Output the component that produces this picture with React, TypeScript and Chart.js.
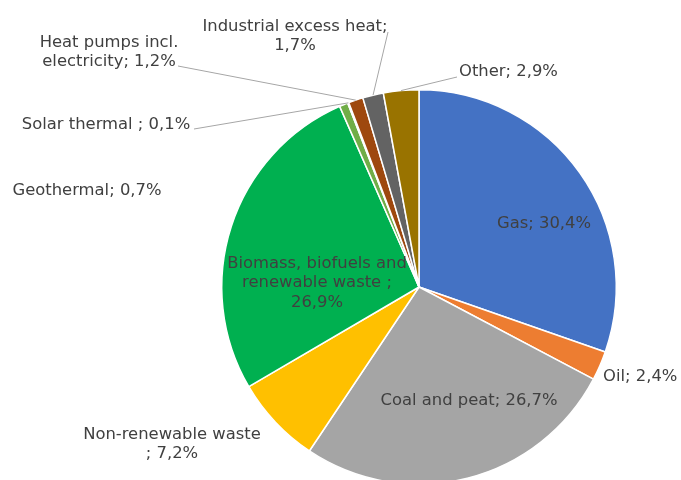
import React, { useEffect, useRef } from "react";
import { Chart, registerables } from "chart.js";

Chart.register(...registerables);

const categories = [
  "Gas",
  "Oil",
  "Coal and peat",
  "Non-renewable waste",
  "Biomass, biofuels and renewable waste",
  "Geothermal",
  "Solar thermal",
  "Heat pumps incl. electricity",
  "Industrial excess heat",
  "Other",
];
const shares = [30.4, 2.4, 26.7, 7.2, 26.9, 0.7, 0.1, 1.2, 1.7, 2.9];
const labelLines = [
  ["Gas; 30,4%"],
  ["Oil; 2,4%"],
  ["Coal and peat; 26,7%"],
  ["Non-renewable waste", "; 7,2%"],
  ["Biomass, biofuels and", "renewable waste ;", "26,9%"],
  ["Geothermal; 0,7%"],
  ["Solar thermal ; 0,1%"],
  ["Heat pumps incl.", "electricity; 1,2%"],
  ["Industrial excess heat;", "1,7%"],
  ["Other; 2,9%"],
];
const colors = [
  "#4472C4",
  "#ED7D31",
  "#A5A5A5",
  "#FFC000",
  "#00B050",
  "#70AD47",
  "#264478",
  "#9E480E",
  "#636363",
  "#997300",
];

// label placement relative to pie centre (px); leader = start of leader line
type LabelLayout = { dx: number; dy: number; align: CanvasTextAlign; leader?: [number, number] };
const labelLayout: LabelLayout[] = [
  { dx: 125, dy: -63, align: "center" },
  { dx: 184, dy: 90, align: "left" },
  { dx: 50, dy: 114, align: "center" },
  { dx: -247, dy: 157, align: "center" },
  { dx: -102, dy: -4, align: "center" },
  { dx: -332, dy: -96, align: "center" },
  { dx: -313, dy: -162, align: "center", leader: [-225, -158] },
  { dx: -310, dy: -235, align: "center", leader: [-241, -221] },
  { dx: -124, dy: -251, align: "center", leader: [-31, -255] },
  { dx: 40, dy: -215, align: "left", leader: [38, -210] },
];

const labelPlugin = {
  id: "pieLabels",
  afterDatasetsDraw(chart: any) {
    const meta = chart.getDatasetMeta(0);
    const ctx = chart.ctx as CanvasRenderingContext2D;
    ctx.save();
    ctx.font = '16.4px "DejaVu Sans"';
    ctx.fillStyle = "#404040";
    ctx.textBaseline = "middle";
    const lh = 19.5;
    meta.data.forEach((el: any, i: number) => {
      const { x, y, startAngle, endAngle, outerRadius } = el.getProps(
        ["x", "y", "startAngle", "endAngle", "outerRadius"],
        true
      );
      const L = labelLayout[i];
      const lines = labelLines[i];
      if (L.leader) {
        const mid = (startAngle + endAngle) / 2;
        ctx.beginPath();
        ctx.strokeStyle = "#A6A6A6";
        ctx.lineWidth = 1;
        ctx.moveTo(x + L.leader[0], y + L.leader[1]);
        ctx.lineTo(x + Math.cos(mid) * outerRadius, y + Math.sin(mid) * outerRadius);
        ctx.stroke();
      }
      ctx.textAlign = L.align;
      const top = y + L.dy - ((lines.length - 1) * lh) / 2;
      lines.forEach((t, k) => ctx.fillText(t, x + L.dx, top + k * lh));
    });
    ctx.restore();
  },
};

export default function App() {
  const ref = useRef<HTMLCanvasElement | null>(null);
  useEffect(() => {
    document.body.style.margin = "0";
    const chart = new Chart(ref.current!, {
      type: "pie",
      data: {
        labels: categories,
        datasets: [
          {
            data: shares,
            backgroundColor: colors,
            borderColor: "#FFFFFF",
            borderWidth: 1.5,
          },
        ],
      },
      options: {
        animation: false,
        responsive: false,
        maintainAspectRatio: false,
        layout: { padding: { left: 221, right: 64, top: 89, bottom: 5 } },
        plugins: { legend: { display: false }, tooltip: { enabled: false } },
      },
      plugins: [labelPlugin],
    });
    return () => chart.destroy();
  }, []);
  return (
    <div style={{ position: "fixed", left: 0, top: 0, width: 681, height: 480, overflow: "hidden", background: "#fff" }}>
      <canvas ref={ref} width={681} height={490} style={{ width: 681, height: 490, display: "block" }} />
    </div>
  );
}
